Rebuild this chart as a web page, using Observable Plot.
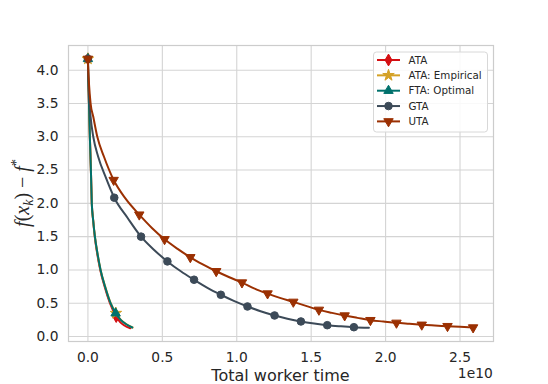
<!DOCTYPE html>
<html><head><meta charset="utf-8">
<script src="https://cdn.jsdelivr.net/npm/d3@7"></script>
<script src="https://cdn.jsdelivr.net/npm/@observablehq/plot@0.6"></script>
<style>
html,body{margin:0;padding:0;background:#fff;}
#chart{width:548px;height:384px;overflow:hidden;}
</style></head><body><div id="chart"></div>
<script>
// x values in units of 1e10 (total worker time), y = f(x_k) - f*
const seriesNames = ["ATA", "ATA: Empirical", "FTA: Optimal", "GTA", "UTA"];

const ataX = [0, 0.001, 0.004, 0.007, 0.013, 0.020, 0.026, 0.035, 0.046, 0.062, 0.083, 0.112, 0.148, 0.190, 0.215, 0.245, 0.285];
const ataY = [4.17, 4.00, 3.75, 3.50, 3.00, 2.50, 2.00, 1.75, 1.50, 1.25, 1.00, 0.75, 0.50, 0.30, 0.22, 0.165, 0.125];
const ataMk = [0, 13];

const ataEmpX = [0, 0.001, 0.004, 0.007, 0.013, 0.020, 0.026, 0.035, 0.047, 0.064, 0.085, 0.116, 0.153, 0.188, 0.222, 0.262, 0.300];
const ataEmpY = [4.17, 4.00, 3.75, 3.50, 3.00, 2.50, 2.00, 1.75, 1.50, 1.25, 1.00, 0.75, 0.50, 0.35, 0.25, 0.18, 0.135];
const ataEmpMk = [0, 13];

const ftaX = [0, 0.001, 0.004, 0.007, 0.013, 0.020, 0.026, 0.035, 0.047, 0.064, 0.085, 0.115, 0.152, 0.186, 0.220, 0.260, 0.298];
const ftaY = [4.17, 4.00, 3.75, 3.50, 3.00, 2.50, 2.00, 1.75, 1.50, 1.25, 1.00, 0.75, 0.50, 0.35, 0.25, 0.18, 0.135];
const ftaMk = [0, 13];

const gtaX = [0, 0.003, 0.011, 0.018, 0.036, 0.069, 0.118, 0.177, 0.267, 0.357, 0.445, 0.534, 0.624, 0.713, 0.800, 0.893, 0.980, 1.072, 1.160, 1.254, 1.340, 1.431, 1.520, 1.608, 1.700, 1.787, 1.888];
const gtaY = [4.17, 3.90, 3.50, 3.30, 3.00, 2.70, 2.40, 2.085, 1.78, 1.50, 1.30, 1.128, 0.98, 0.853, 0.735, 0.627, 0.535, 0.451, 0.380, 0.316, 0.268, 0.226, 0.195, 0.170, 0.153, 0.140, 0.131];
const gtaMk = [0, 7, 9, 11, 13, 15, 17, 19, 21, 23, 25];

const utaX = [0, 0.003, 0.007, 0.018, 0.036, 0.063, 0.108, 0.173, 0.253, 0.345, 0.430, 0.515, 0.600, 0.688, 0.775, 0.862, 0.950, 1.035, 1.120, 1.207, 1.290, 1.380, 1.465, 1.552, 1.640, 1.725, 1.810, 1.898, 1.985, 2.073, 2.160, 2.243, 2.330, 2.416, 2.500, 2.588];
const utaY = [4.17, 3.95, 3.80, 3.50, 3.30, 3.00, 2.70, 2.35, 2.07, 1.83, 1.63, 1.46, 1.32, 1.19, 1.08, 0.98, 0.89, 0.81, 0.72, 0.645, 0.58, 0.52, 0.46, 0.40, 0.355, 0.315, 0.28, 0.245, 0.225, 0.205, 0.19, 0.176, 0.165, 0.155, 0.145, 0.135];
const utaMk = [0, 7, 9, 11, 13, 15, 17, 19, 21, 23, 25, 27, 29, 31, 33, 35];

const xTicks = [0, 0.5, 1.0, 1.5, 2.0, 2.5];
const yTicks = [0, 0.5, 1.0, 1.5, 2.0, 2.5, 3.0, 3.5, 4.0];

const colors = ["#d40f12", "#d4a126", "#00716c", "#3c4a58", "#9b3002"];

const triangleDown = {
  draw(ctx, size) {
    const s = Math.sqrt(4 * size / Math.sqrt(3));
    const h = s * Math.sqrt(3) / 2;
    ctx.moveTo(0, 2 * h / 3);
    ctx.lineTo(-s / 2, -h / 3);
    ctx.lineTo(s / 2, -h / 3);
    ctx.closePath();
  }
};

const series = [
  {x: ataX, y: ataY, mk: ataMk, symbol: "diamond", r: 3.6},
  {x: ataEmpX, y: ataEmpY, mk: ataEmpMk, symbol: "star", r: 3.6},
  {x: ftaX, y: ftaY, mk: ftaMk, symbol: "triangle", r: 3.5},
  {x: gtaX, y: gtaY, mk: gtaMk, symbol: "circle", r: 3.8},
  {x: utaX, y: utaY, mk: utaMk, symbol: triangleDown, r: 3.5}
];

const W = 548, H = 384;
const gridColor = "#d4d4d4";

const marks = [
  Plot.ruleX(xTicks, {stroke: gridColor, strokeWidth: 1.1}),
  Plot.ruleY(yTicks, {stroke: gridColor, strokeWidth: 1.1}),
];
series.forEach((s, k) => {
  const pts = s.x.map((x, i) => ({x, y: s.y[i]}));
  const mpts = s.mk.map(i => ({x: s.x[i], y: s.y[i]}));
  marks.push(Plot.line(pts, {x: "x", y: "y", stroke: colors[k], strokeWidth: 2, curve: "monotone-x"}));
  marks.push(Plot.dot(mpts, {x: "x", y: "y", symbol: s.symbol, r: s.r, fill: colors[k], stroke: colors[k], strokeWidth: 1}));
});
marks.push(Plot.frame({stroke: "#cccccc", strokeWidth: 1.2}));

const chart = Plot.plot({
  width: W, height: H,
  marginLeft: 68, marginRight: 55, marginTop: 45, marginBottom: 43,
  style: {fontFamily: "DejaVu Sans", fontSize: "13.8px", color: "#262626", background: "#fff"},
  x: {domain: [-0.1305, 2.725], ticks: xTicks, tickFormat: d3.format(".1f"), tickSize: 0, tickPadding: 11, label: null},
  y: {domain: [-0.075, 4.371], ticks: yTicks, tickFormat: d3.format(".1f"), tickSize: 0, tickPadding: 10, label: null},
  marks
});
document.getElementById("chart").appendChild(chart);

const svg = d3.select(chart);
// x label
svg.append("text").attr("x", 280.5).attr("y", 381).attr("text-anchor", "middle")
  .attr("font-family", "DejaVu Sans").attr("font-size", 16).attr("fill", "#262626")
  .text("Total worker time");
// offset
svg.append("text").attr("x", 492.7).attr("y", 378).attr("text-anchor", "end")
  .attr("font-family", "DejaVu Sans").attr("font-size", 13.8).attr("fill", "#262626")
  .text("1e10");
// y label
const yl = svg.append("text").attr("transform", "translate(29,193) rotate(-90)").attr("text-anchor", "middle")
  .attr("font-family", "Liberation Serif").attr("font-size", 20).attr("fill", "#262626");
yl.append("tspan").attr("font-style", "italic").text("f");
yl.append("tspan").text("(");
yl.append("tspan").attr("font-style", "italic").text("x");
yl.append("tspan").attr("font-style", "italic").attr("font-size", 14).attr("dy", 4).text("k");
yl.append("tspan").attr("dy", -4).text(") \u2212 ");
yl.append("tspan").attr("font-style", "italic").text("f");
yl.append("tspan").attr("font-size", 14).attr("dy", -8).text("*");

// legend
const lg = svg.append("g");
lg.append("rect").attr("x", 373.5).attr("y", 52).attr("width", 114).attr("height", 80).attr("rx", 3)
  .attr("fill", "#fff").attr("fill-opacity", 0.85).attr("stroke", "#d8d8d8").attr("stroke-width", 1);
const symGen = (sym, r) => {
  const symObj = typeof sym === "string" ? ({diamond: d3.symbolDiamond, star: d3.symbolStar, triangle: d3.symbolTriangle, circle: d3.symbolCircle})[sym] : sym;
  return d3.symbol(symObj, Math.PI * r * r)();
};
seriesNames.forEach((name, k) => {
  const cy = 60 + k * 15.35;
  lg.append("line").attr("x1", 377).attr("x2", 400).attr("y1", cy).attr("y2", cy)
    .attr("stroke", colors[k]).attr("stroke-width", 2);
  lg.append("path").attr("d", symGen(series[k].symbol, series[k].r))
    .attr("transform", `translate(388.5,${cy})`).attr("fill", colors[k]).attr("stroke", colors[k]);
  lg.append("text").attr("x", 408.5).attr("y", cy).attr("dy", "0.35em").attr("text-anchor", "start")
    .attr("font-family", "DejaVu Sans").attr("font-size", 10.3).attr("fill", "#262626").text(name);
});
</script>
</body></html>
